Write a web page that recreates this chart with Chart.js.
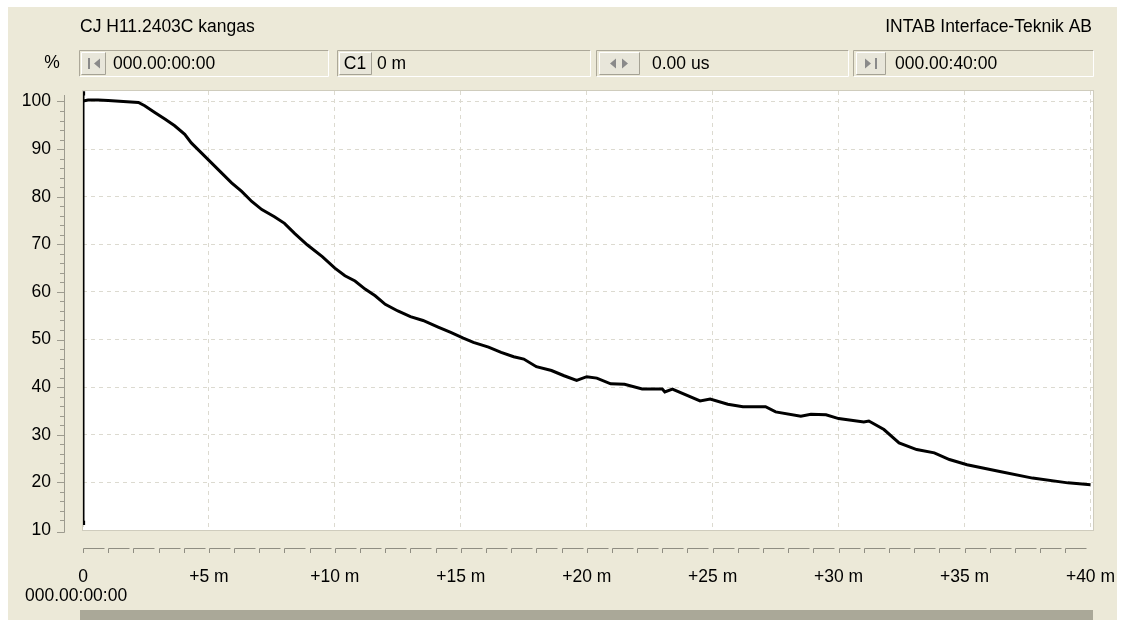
<!DOCTYPE html>
<html>
<head>
<meta charset="utf-8">
<script src="https://cdn.jsdelivr.net/npm/chart.js@4.4.1/dist/chart.umd.min.js"></script>
<style>
  html, body { margin: 0; padding: 0; background: #fff; }
</style>
</head>
<body>
<canvas id="chart" width="1125" height="620"></canvas>
<script>
// readings (minutes since start, % value)
const minutes = [0, 0.2, 0.6, 1.0, 1.6, 2.2, 2.45, 2.85, 3.25, 3.64, 4.04, 4.3, 4.7, 5.1, 5.5, 5.9,
  6.3, 6.7, 7.1, 7.6, 8.0, 8.4, 8.9, 9.5, 10.0, 10.4, 10.8, 11.2, 11.6, 12.0, 12.5, 13.0, 13.5,
  14.1, 14.6, 15.1, 15.5, 16.1, 16.6, 17.1, 17.5, 18.0, 18.6, 19.1, 19.6, 20.0, 20.4, 20.95, 21.5,
  22.2, 23.0, 23.1, 23.4, 24.5, 24.9, 25.6, 26.2, 27.1, 27.5, 28.5, 28.9, 29.5, 30.0, 31.0, 31.2,
  31.8, 32.4, 33.1, 33.8, 34.4, 35.1, 36.4, 37.7, 39.1, 40.0];
const percent = [100.1, 100.3, 100.3, 100.2, 100.0, 99.8, 99.1, 97.7, 96.3, 94.9, 93.1, 91.3, 89.2, 87.1, 85.0, 82.9,
  81.1, 79.0, 77.3, 75.8, 74.4, 72.3, 69.9, 67.4, 65.0, 63.4, 62.3, 60.6, 59.2, 57.4, 56.0, 54.8, 54.0,
  52.6, 51.5, 50.3, 49.4, 48.4, 47.3, 46.4, 45.9, 44.3, 43.5, 42.4, 41.4, 42.2, 41.9, 40.7, 40.6,
  39.6, 39.6, 39.0, 39.6, 37.1, 37.5, 36.4, 35.9, 35.9, 34.8, 33.9, 34.3, 34.2, 33.4, 32.7, 32.9,
  31.1, 28.3, 26.9, 26.2, 24.8, 23.7, 22.3, 20.9, 19.9, 19.5];

// start cursor: vertical bar with square ends
const cursorMinutes = [0, 0];
const cursorPercent = [11.5, 101.7];

const yTicks = [10, 20, 30, 40, 50, 60, 70, 80, 90, 100];
const xTicks = [0, 5, 10, 15, 20, 25, 30, 35, 40];

const titleLeft = 'CJ H11.2403C kangas';
const titleRight = 'INTAB Interface-Teknik AB';
const startTime = '000.00:00:00';
const endTime = '000.00:40:00';
const cursorText = '0 m';
const deltaText = '0.00 us';

const FONT = "'Liberation Sans', Arial, sans-serif";
const BEIGE = '#ECE9D8';

function panel(ctx, x0, x1, y0, y1) {
  ctx.strokeStyle = '#aca899';
  ctx.beginPath();
  ctx.moveTo(x0 + 0.5, y1 - 0.5); ctx.lineTo(x0 + 0.5, y0 + 0.5); ctx.lineTo(x1 - 0.5, y0 + 0.5);
  ctx.stroke();
  ctx.strokeStyle = '#fff';
  ctx.beginPath();
  ctx.moveTo(x1 - 0.5, y0 + 0.5); ctx.lineTo(x1 - 0.5, y1 - 0.5); ctx.lineTo(x0 + 0.5, y1 - 0.5);
  ctx.stroke();
}

function button(ctx, x0, x1, y0, y1) {
  ctx.fillStyle = '#e8e6da';
  ctx.fillRect(x0, y0, x1 - x0, y1 - y0);
  ctx.strokeStyle = '#fff';
  ctx.beginPath();
  ctx.moveTo(x0 + 0.5, y1 - 0.5); ctx.lineTo(x0 + 0.5, y0 + 0.5); ctx.lineTo(x1 - 0.5, y0 + 0.5);
  ctx.stroke();
  ctx.strokeStyle = '#a5a295';
  ctx.beginPath();
  ctx.moveTo(x1 - 0.5, y0 + 0.5); ctx.lineTo(x1 - 0.5, y1 - 0.5); ctx.lineTo(x0 + 0.5, y1 - 0.5);
  ctx.stroke();
}

function tri(ctx, x, y, dir) {
  ctx.beginPath();
  ctx.moveTo(x, y - 5); ctx.lineTo(x, y + 5); ctx.lineTo(x + 6 * dir, y);
  ctx.closePath();
  ctx.fill();
}

const frame = {
  id: 'frame',
  beforeDraw(chart) {
    const { ctx, chartArea: a } = chart;
    ctx.save();
    ctx.fillStyle = '#fff';
    ctx.fillRect(0, 0, chart.width, chart.height);
    ctx.fillStyle = BEIGE;
    ctx.fillRect(8, 7, 1109, 613);
    ctx.fillStyle = '#fff';
    ctx.fillRect(a.left, a.top, a.width, a.height);
    ctx.restore();
  },
  afterDraw(chart) {
    const { ctx, chartArea: a, scales } = chart;
    const xs = scales.x, ys = scales.y;
    ctx.save();

    // plot frame
    ctx.strokeStyle = '#cfccbd';
    ctx.lineWidth = 1;
    ctx.strokeRect(a.left - 0.5, a.top - 0.5, a.width + 1, a.height + 1);

    // headings
    ctx.fillStyle = '#000';
    ctx.font = '17.5px ' + FONT;
    ctx.textBaseline = 'middle';
    ctx.textAlign = 'left';
    ctx.fillText(titleLeft, 80, 27);
    ctx.textAlign = 'right';
    ctx.fillText(titleRight, 1092, 27);
    ctx.textAlign = 'center';
    ctx.fillText('%', 52, 63);

    // toolbar panels
    const boxes = [[79, 329], [337, 591], [596, 849], [853, 1094]];
    boxes.forEach(b => panel(ctx, b[0], b[1], 50, 77));
    button(ctx, 81, 106, 52, 75);
    button(ctx, 339, 372, 52, 75);
    button(ctx, 599, 640, 52, 75);
    button(ctx, 856, 886, 52, 75);
    ctx.fillStyle = '#8a8a8a';
    ctx.fillRect(88, 58, 2, 11); tri(ctx, 100, 63.5, -1);
    tri(ctx, 616, 63.5, -1); tri(ctx, 622, 63.5, 1);
    tri(ctx, 865, 63.5, 1); ctx.fillRect(875, 58, 2, 11);
    ctx.fillStyle = '#000';
    ctx.textAlign = 'center';
    ctx.fillText('C1', 355, 64);
    ctx.textAlign = 'left';
    ctx.fillText(startTime, 113, 64);
    ctx.fillText(cursorText, 377, 64);
    ctx.fillText(deltaText, 652, 64);
    ctx.fillText(endTime, 895, 64);

    // y ruler with minor ticks
    ctx.strokeStyle = '#9d9b8f';
    ctx.beginPath();
    ctx.moveTo(64.5, 95);
    ctx.lineTo(64.5, ys.getPixelForValue(10) + 2.5);
    ctx.lineTo(57, ys.getPixelForValue(10) + 2.5);
    for (let v = 12; v <= 100; v += 2) {
      const y = Math.round(ys.getPixelForValue(v)) + 0.5;
      ctx.moveTo(v % 10 === 0 ? 57 : 60, y);
      ctx.lineTo(64, y);
    }
    ctx.stroke();

    // x ruler, one step per minute
    ctx.strokeStyle = '#8f8d82';
    ctx.beginPath();
    for (let m = 0; m < 40; m++) {
      const x = Math.round(xs.getPixelForValue(m)) + 0.5;
      ctx.moveTo(x, 553);
      ctx.lineTo(x, 548.5);
      ctx.lineTo(x + 21, 548.5);
    }
    ctx.stroke();

    ctx.fillStyle = '#000';
    ctx.textAlign = 'left';
    ctx.fillText(startTime, 25, 596);

    // scroll bar
    ctx.fillStyle = '#aaa898';
    ctx.fillRect(80, 610, 1013, 10);
    ctx.restore();
  }
};

new Chart(document.getElementById('chart'), {
  type: 'scatter',
  data: {
    datasets: [
      {
        data: minutes.map((m, i) => ({ x: m, y: percent[i] })),
        showLine: true,
        borderColor: '#000',
        borderWidth: 3,
        pointRadius: 0,
        tension: 0
      },
      {
        data: cursorMinutes.map((m, i) => ({ x: m, y: cursorPercent[i] })),
        showLine: true,
        borderColor: '#000',
        backgroundColor: '#000',
        borderWidth: 3,
        pointStyle: 'rect',
        pointRadius: 3,
        pointBorderWidth: 0
      }
    ]
  },
  options: {
    responsive: false,
    animation: false,
    events: [],
    layout: { padding: { top: 91, right: 32, bottom: 0, left: 0 } },
    plugins: { legend: { display: false }, tooltip: { enabled: false } },
    scales: {
      x: {
        type: 'linear',
        min: 0,
        max: 40.1,
        afterBuildTicks: s => { s.ticks = xTicks.map(v => ({ value: v })); },
        afterFit: s => { s.height = 90; s.paddingLeft = 0; s.paddingRight = 0; },
        grid: { color: '#dcdad0', drawTicks: false },
        border: { display: false, dash: [4, 4] },
        ticks: {
          padding: 37,
          color: '#000',
          font: { family: FONT, size: 17.5 },
          maxRotation: 0,
          autoSkip: false,
          callback: v => v === 0 ? '0' : '+' + v + ' m'
        }
      },
      y: {
        min: 10,
        max: 102.2,
        afterBuildTicks: s => { s.ticks = yTicks.map(v => ({ value: v })); },
        afterFit: s => { s.width = 83; },
        grid: { color: '#dcdad0', drawTicks: false },
        border: { display: false, dash: [4, 4] },
        ticks: {
          padding: 32,
          color: '#000',
          font: { family: FONT, size: 17.5 }
        }
      }
    }
  },
  plugins: [frame]
});
</script>
</body>
</html>
